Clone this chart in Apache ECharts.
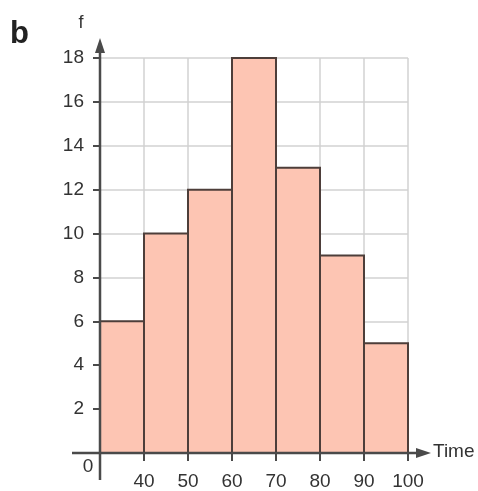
<!DOCTYPE html>
<html>
<head>
<meta charset="utf-8">
<script src="https://cdn.jsdelivr.net/npm/echarts@6/dist/echarts.min.js"></script>
<style>
  html, body { margin: 0; padding: 0; background: #fff; }
  #chart { width: 478px; height: 491px; }
</style>
</head>
<body>
<div id="chart"></div>
<script>
// Class intervals for time (lower and upper bounds) and their frequencies
const binStarts = [30, 40, 50, 60, 70, 80, 90];
const binEnds = [40, 50, 60, 70, 80, 90, 100];
const frequencies = [6, 10, 12, 18, 13, 9, 5];
const yTicks = [0, 2, 4, 6, 8, 10, 12, 14, 16, 18];

const FONT = '"Liberation Sans", Arial, sans-serif';
const TEXT = '#333333';
const AXIS = '#4a4a4a';

const chart = echarts.init(document.getElementById('chart'));

chart.setOption({
  animation: false,
  grid: { left: 100, right: 70, top: 58, bottom: 38 },
  xAxis: {
    type: 'value',
    min: binStarts[0],
    max: binEnds[binEnds.length - 1],
    interval: 10,
    axisLine: { show: false },
    axisTick: { show: true, length: 8, lineStyle: { color: AXIS, width: 2 } },
    axisLabel: {
      margin: 19,
      fontSize: 19,
      fontFamily: FONT,
      color: TEXT,
      formatter: v => (v === binStarts[0] ? '' : String(v))
    },
    splitLine: { show: true, lineStyle: { color: '#d2d2d2', width: 1.5 } }
  },
  yAxis: {
    type: 'value',
    min: yTicks[0],
    max: yTicks[yTicks.length - 1],
    interval: 2,
    axisLine: { show: false },
    axisTick: { show: true, length: 7, lineStyle: { color: AXIS, width: 2 } },
    axisLabel: {
      margin: 16,
      fontSize: 19,
      fontFamily: FONT,
      color: TEXT,
      formatter: v => (v === 0 ? '' : String(v))
    },
    splitLine: { show: true, lineStyle: { color: '#d2d2d2', width: 1.5 } }
  },
  series: [{
    type: 'custom',
    data: frequencies.map((f, i) => [binStarts[i], binEnds[i], f]),
    encode: { x: [0, 1], y: 2 },
    renderItem: (params, api) => {
      const p0 = api.coord([api.value(0), api.value(2)]);
      const p1 = api.coord([api.value(1), 0]);
      return {
        type: 'rect',
        shape: { x: p0[0], y: p0[1], width: p1[0] - p0[0], height: p1[1] - p0[1] },
        style: { fill: '#fdc5b3', stroke: '#4d3e3a', lineWidth: 2 }
      };
    }
  }]
});

// Arrowed axes, the origin "0", axis names and the panel letter
const o = chart.convertToPixel({ gridIndex: 0 }, [binStarts[0], 0]);
const xEnd = chart.convertToPixel({ gridIndex: 0 }, [binEnds[binEnds.length - 1], 0]);
const yTop = chart.convertToPixel({ gridIndex: 0 }, [binStarts[0], yTicks[yTicks.length - 1]]);

chart.setOption({
  graphic: [
    { type: 'line', shape: { x1: o[0] - 28, y1: o[1], x2: xEnd[0] + 10, y2: o[1] },
      style: { stroke: AXIS, lineWidth: 2.5 }, z: 100 },
    { type: 'polygon', shape: { points: [[xEnd[0] + 23, o[1]], [xEnd[0] + 8, o[1] - 5], [xEnd[0] + 8, o[1] + 5]] },
      style: { fill: AXIS }, z: 100 },
    { type: 'line', shape: { x1: o[0], y1: o[1] + 27, x2: o[0], y2: yTop[1] - 8 },
      style: { stroke: AXIS, lineWidth: 2.5 }, z: 100 },
    { type: 'polygon', shape: { points: [[o[0], yTop[1] - 20], [o[0] - 5, yTop[1] - 5], [o[0] + 5, yTop[1] - 5]] },
      style: { fill: AXIS }, z: 100 },
    { type: 'text', x: o[0] - 12, y: o[1] + 14,
      style: { text: '0', fontSize: 19, fontFamily: FONT, fill: TEXT, align: 'center', verticalAlign: 'middle' } },
    { type: 'text', x: xEnd[0] + 25, y: o[1] - 1,
      style: { text: 'Time', fontSize: 19, fontFamily: FONT, fill: TEXT, align: 'left', verticalAlign: 'middle' } },
    { type: 'text', x: o[0] - 19, y: yTop[1] - 35,
      style: { text: 'f', fontSize: 18, fontFamily: FONT, fill: TEXT, align: 'center', verticalAlign: 'middle' } },
    { type: 'text', x: 10, y: 34,
      style: { text: 'b', fontSize: 31, fontWeight: 'bold', fontFamily: FONT, fill: '#222', align: 'left', verticalAlign: 'middle' } }
  ]
});
</script>
</body>
</html>
